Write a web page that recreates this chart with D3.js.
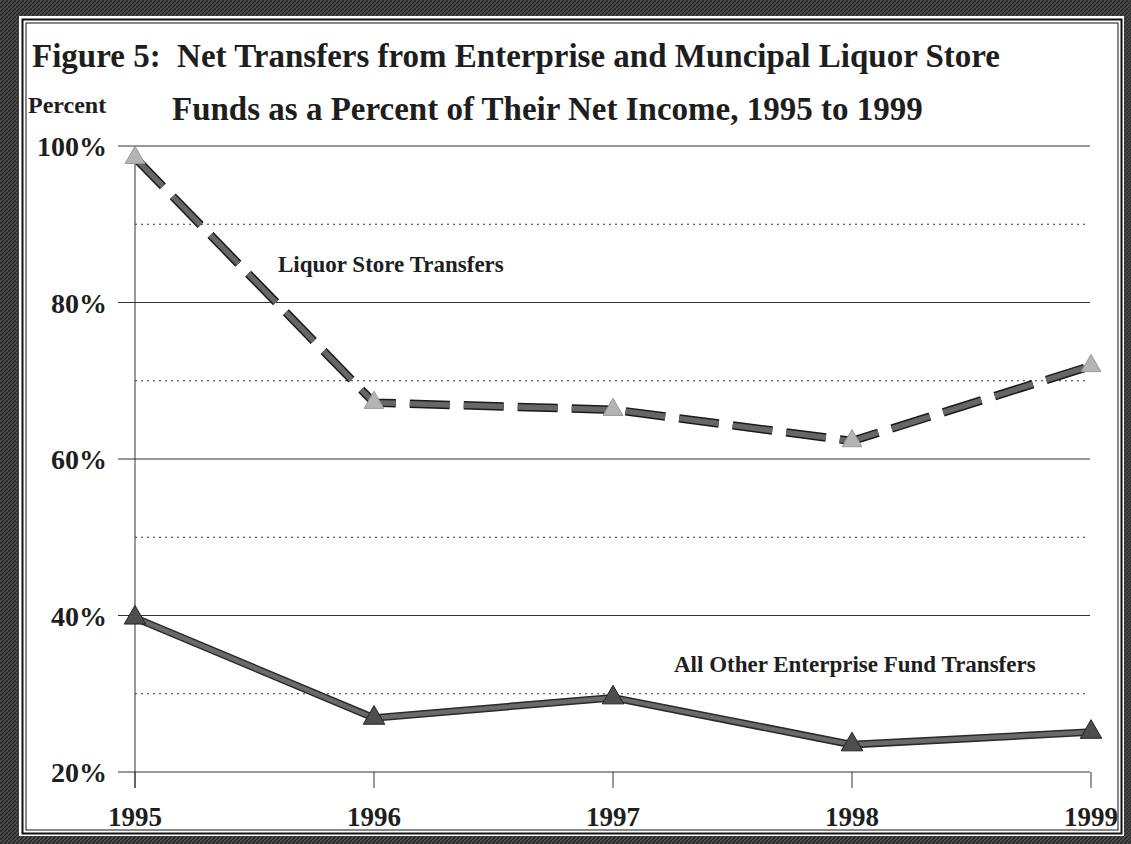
<!DOCTYPE html>
<meta charset="utf-8">
<style>
body { margin: 0; background: #fff; }
text { font-family: "Liberation Serif", "Times New Roman", serif; font-weight: bold; fill: #1e1e1e; white-space: pre; }
.grid line { stroke: #333; stroke-width: 1; }
.grid .minor { stroke-dasharray: 2,4; }
</style>
<svg width="1131" height="844"></svg>
<script src="https://cdn.jsdelivr.net/npm/d3@7"></script>
<script>
var years = [1995, 1996, 1997, 1998, 1999];
var liquor = [98.5, 67.2, 66.3, 62.3, 71.9];
var other = [39.7, 26.9, 29.5, 23.5, 25.1];
var majorTicks = [20, 40, 60, 80, 100];
var minorTicks = [30, 50, 70, 90];

var svg = d3.select("svg");

// scanned frame
var defs = svg.append("defs");
var pat = defs.append("pattern").attr("id", "hatch")
    .attr("width", 4).attr("height", 4).attr("patternUnits", "userSpaceOnUse");
pat.append("rect").attr("width", 4).attr("height", 4).attr("fill", "#4a4a4a");
pat.append("path").attr("d", "M0,4 L4,0").attr("stroke", "#222").attr("stroke-width", 1.2);

svg.append("rect").attr("width", 1131).attr("height", 844).attr("fill", "url(#hatch)");
svg.append("rect").attr("x", 19).attr("y", 16).attr("width", 1105).attr("height", 820).attr("fill", "#fff");
svg.append("rect").attr("x", 22.5).attr("y", 19.5).attr("width", 1099).attr("height", 814)
    .attr("fill", "none").attr("stroke", "#111").attr("stroke-width", 2);
svg.append("rect").attr("x", 26).attr("y", 23).attr("width", 1092).attr("height", 807)
    .attr("fill", "none").attr("stroke", "#111").attr("stroke-width", 1);

var x = d3.scalePoint().domain(years).range([135, 1091]);
var y = d3.scaleLinear().domain([20, 100]).range([772, 146]);

// gridlines
var grid = svg.append("g").attr("class", "grid");
grid.selectAll(".major").data(majorTicks).enter().append("line")
    .attr("class", "major")
    .attr("x1", 118).attr("x2", 1090)
    .attr("y1", function(d) { return y(d); }).attr("y2", function(d) { return y(d); });
grid.selectAll(".minor").data(minorTicks).enter().append("line")
    .attr("class", "minor")
    .attr("x1", 135).attr("x2", 1086)
    .attr("y1", function(d) { return y(d); }).attr("y2", function(d) { return y(d); });

// y axis line and x ticks
svg.append("line").attr("x1", 135).attr("x2", 135).attr("y1", y(100)).attr("y2", 788)
    .attr("stroke", "#333");
svg.selectAll(".xtick").data(years).enter().append("line")
    .attr("class", "xtick")
    .attr("x1", function(d) { return x(d); }).attr("x2", function(d) { return x(d); })
    .attr("y1", y(20)).attr("y2", 788)
    .attr("stroke", "#333");

// tick labels
svg.selectAll(".ylab").data(majorTicks).enter().append("text")
    .attr("class", "ylab")
    .attr("x", 107).attr("y", function(d) { return y(d) + 10; })
    .attr("text-anchor", "end")
    .style("font-size", "28px")
    .text(function(d) { return d + "%"; });
svg.selectAll(".xlab").data(years).enter().append("text")
    .attr("class", "xlab")
    .attr("x", function(d) { return x(d); }).attr("y", 826)
    .attr("text-anchor", "middle")
    .style("font-size", "27px")
    .text(function(d) { return d; });

// titles
svg.append("text").attr("x", 32).attr("y", 67).style("font-size", "33px")
    .text("Figure 5:  Net Transfers from Enterprise and Muncipal Liquor Store");
svg.append("text").attr("x", 172).attr("y", 120).style("font-size", "33px")
    .text("Funds as a Percent of Their Net Income, 1995 to 1999");
svg.append("text").attr("x", 28).attr("y", 113).style("font-size", "24px").text("Percent");

var line = d3.line()
    .x(function(d, i) { return x(years[i]); })
    .y(function(d) { return y(d); });

// liquor store (dashed)
svg.append("path").datum(liquor).attr("d", line)
    .attr("fill", "none").attr("stroke", "#1a1a1a").attr("stroke-width", 8.5)
    .attr("stroke-dasharray", "40,14");
svg.append("path").datum(liquor).attr("d", line)
    .attr("fill", "none").attr("stroke", "#666").attr("stroke-width", 5.5)
    .attr("stroke-dasharray", "40,14");

// all other (solid)
svg.append("path").datum(other).attr("d", line)
    .attr("fill", "none").attr("stroke", "#2a2a2a").attr("stroke-width", 7.5);
svg.append("path").datum(other).attr("d", line)
    .attr("fill", "none").attr("stroke", "#6a6a6a").attr("stroke-width", 4.5);

var tri = d3.symbol().type(d3.symbolTriangle);
svg.selectAll(".tl").data(liquor).enter().append("path")
    .attr("class", "tl")
    .attr("d", tri.size(170))
    .attr("transform", function(d, i) { return "translate(" + x(years[i]) + "," + y(d) + ")"; })
    .attr("fill", "#b4b4b4").attr("stroke", "#999").attr("stroke-width", 1);
svg.selectAll(".to").data(other).enter().append("path")
    .attr("class", "to")
    .attr("d", tri.size(200))
    .attr("transform", function(d, i) { return "translate(" + x(years[i]) + "," + y(d) + ")"; })
    .attr("fill", "#4e4e4e").attr("stroke", "#222").attr("stroke-width", 1);

// series labels
svg.append("text").attr("x", 278).attr("y", 272).style("font-size", "23px").text("Liquor Store Transfers");
svg.append("text").attr("x", 674).attr("y", 672).style("font-size", "23px").text("All Other Enterprise Fund Transfers");
</script>
